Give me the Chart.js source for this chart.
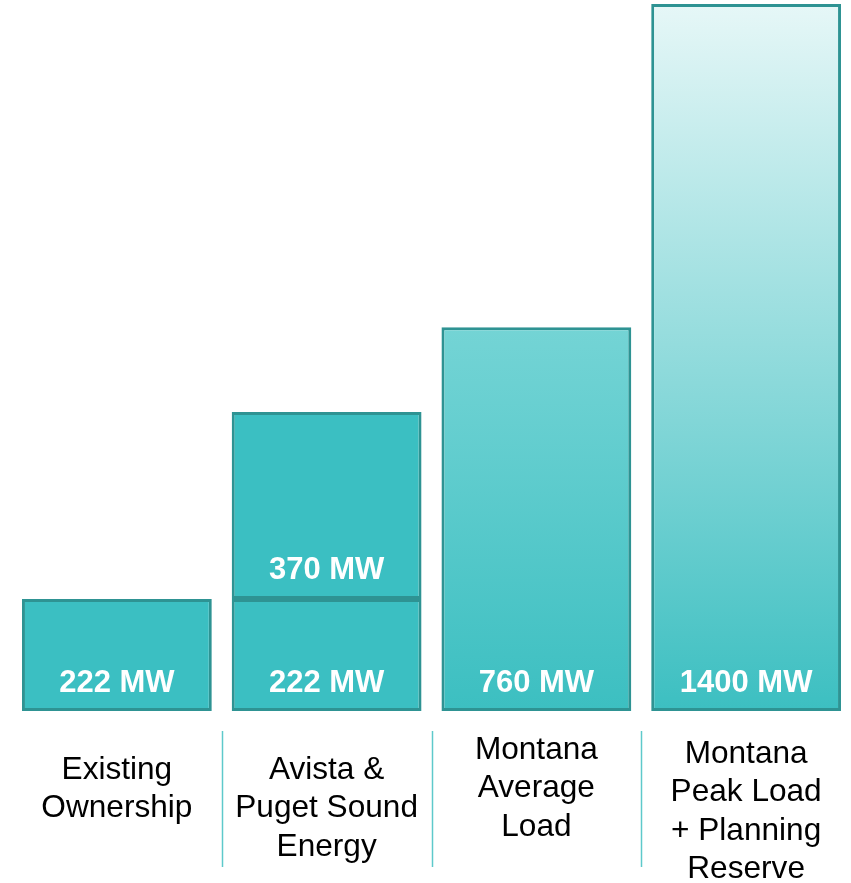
<!DOCTYPE html>
<html>
<head>
<meta charset="utf-8">
<script src="https://cdn.jsdelivr.net/npm/chart.js@4"></script>
<style>
  html, body { margin: 0; padding: 0; background: #fff; }
  #wrap { width: 851px; height: 883px; position: relative; }
</style>
</head>
<body>
<div id="wrap"><canvas id="mwChart"></canvas></div>
<script>
// Data
const categories = [
    ['Existing', 'Ownership'],
    ['Avista &', 'Puget Sound', 'Energy'],
    ['Montana', 'Average', 'Load'],
    ['Montana', 'Peak Load', '+ Planning', 'Reserve']
];
const baseMW = [222, 222, 760, 1400];
const addedMW = [null, 370, null, null];
const unit = ' MW';

// Styling
const solidTeal = '#3bbfc2';
const borderTeal = '#2e9393';
const gradientTop = [null, null, '#74d4d5', '#e6f7f7'];
const labelFirstLineOffset = [59, 59, 39, 43]; // below chart bottom
const lineHeight = 38.5;

function barFill(context) {
    const i = context.dataIndex;
    const chart = context.chart;
    if (context.datasetIndex !== 0 || !gradientTop[i] || !chart.chartArea) return solidTeal;
    const y = chart.scales.y;
    const top = y.getPixelForValue(baseMW[i]);
    const bottom = y.getPixelForValue(0);
    const g = chart.ctx.createLinearGradient(0, top, 0, bottom);
    g.addColorStop(0, gradientTop[i]);
    g.addColorStop(1, '#3cbfc1');
    return g;
}

const labelsPlugin = {
    id: 'mwLabels',
    afterDatasetsDraw(chart) {
        const ctx = chart.ctx;
        const xScale = chart.scales.x;
        const area = chart.chartArea;
        ctx.save();
        ctx.textAlign = 'center';
        ctx.textBaseline = 'middle';

        // value labels near the bottom of each segment
        ctx.font = "bold 31px 'Liberation Sans', Arial, sans-serif";
        ctx.fillStyle = '#ffffff';
        chart.data.datasets.forEach((ds, di) => {
            const meta = chart.getDatasetMeta(di);
            meta.data.forEach((bar, i) => {
                const v = ds.data[i];
                if (v == null) return;
                ctx.fillText(v + unit, bar.x, bar.base - 28);
            });
        });

        // category labels
        ctx.font = "31.6px 'Liberation Sans', Arial, sans-serif";
        ctx.fillStyle = '#000000';
        categories.forEach((lines, i) => {
            const x = xScale.getPixelForValue(i);
            lines.forEach((line, k) => {
                ctx.fillText(line, x, area.bottom + labelFirstLineOffset[i] + k * lineHeight);
            });
        });

        // separators between categories
        ctx.strokeStyle = '#5ec9cb';
        ctx.lineWidth = 1.5;
        for (let i = 0; i < categories.length - 1; i++) {
            const x = Math.round((xScale.getPixelForValue(i) + xScale.getPixelForValue(i + 1)) / 2) + 0.5;
            ctx.beginPath();
            ctx.moveTo(x, area.bottom + 20);
            ctx.lineTo(x, area.bottom + 156);
            ctx.stroke();
        }
        ctx.restore();
    }
};

const ctx = document.getElementById('mwChart').getContext('2d');
new Chart(ctx, {
    type: 'bar',
    data: {
        labels: categories,
        datasets: [
            {
                data: baseMW,
                backgroundColor: barFill,
                borderColor: borderTeal,
                borderWidth: 3,
                borderSkipped: false
            },
            {
                data: addedMW,
                backgroundColor: solidTeal,
                borderColor: borderTeal,
                borderWidth: 3,
                borderSkipped: false
            }
        ]
    },
    options: {
        responsive: true,
        maintainAspectRatio: false,
        animation: false,
        layout: { padding: { left: 12, right: 0, top: 0, bottom: 172 } },
        datasets: { bar: { barPercentage: 0.905, categoryPercentage: 1.0 } },
        plugins: {
            legend: { display: false },
            tooltip: { enabled: false }
        },
        scales: {
            x: { stacked: true, display: false },
            y: { stacked: true, display: false, min: 0, max: 1408 }
        }
    },
    plugins: [labelsPlugin]
});
</script>
</body>
</html>
